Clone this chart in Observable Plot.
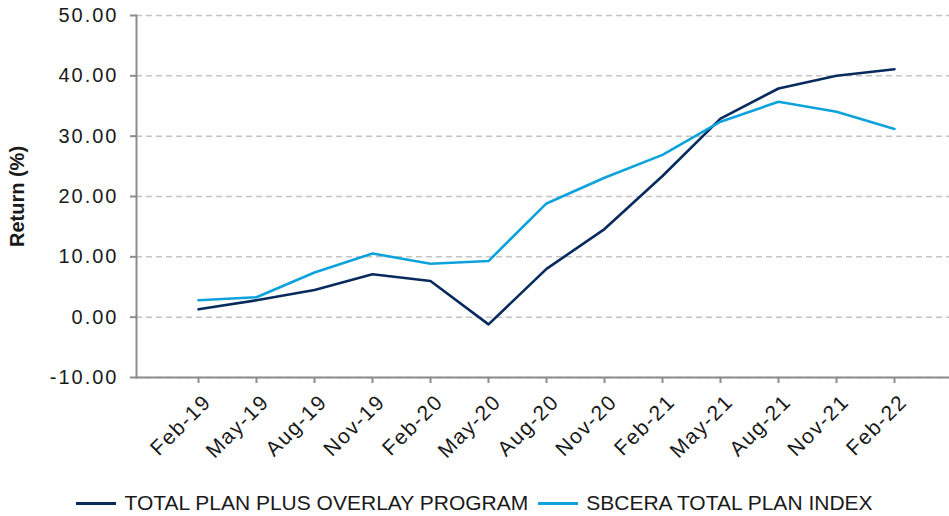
<!DOCTYPE html>
<html>
<head>
<meta charset="utf-8">
<script src="https://cdn.jsdelivr.net/npm/d3@7"></script>
<script src="https://cdn.jsdelivr.net/npm/@observablehq/plot@0.6"></script>
<style>
  html, body { margin: 0; padding: 0; background: #fff; }
  body { width: 949px; font-family: "Liberation Sans", Arial, sans-serif; }
  #chart svg { display: block; }
  [aria-label="y-axis tick label"] text { letter-spacing: 2px; }
  [aria-label="x-axis tick label"] text { letter-spacing: 1.5px; font-size: 21px; }
  [aria-label="y-axis label"] text { font-weight: bold; font-size: 20px; fill: #1a1a1a; }
  .legend { display: flex; justify-content: center; align-items: center; height: 46px; gap: 10px; font-size: 21px; color: #1a1a1a; }
  .item { display: flex; align-items: center; }
  .swatch { width: 40px; height: 3px; margin-right: 8px; }
</style>
</head>
<body>
<div id="chart"></div>
<div class="legend" id="legend"></div>
<script>
const dates = ["Feb-19","May-19","Aug-19","Nov-19","Feb-20","May-20","Aug-20","Nov-20","Feb-21","May-21","Aug-21","Nov-21","Feb-22"];
const overlayProgram = [1.3, 2.8, 4.5, 7.1, 6.0, -1.2, 8.0, 14.6, 23.4, 32.9, 37.9, 40.0, 41.1];
const planIndex = [2.8, 3.3, 7.4, 10.55, 8.85, 9.3, 18.85, 23.1, 26.9, 32.4, 35.7, 34.05, 31.2];
const seriesNames = ["TOTAL PLAN PLUS OVERLAY PROGRAM", "SBCERA TOTAL PLAN INDEX"];
const seriesColors = ["#082b5e", "#0ea2dc"];
const yTicks = [-10, 0, 10, 20, 30, 40, 50];

const data = dates.flatMap((d, i) => [
  {date: d, value: overlayProgram[i], series: seriesNames[0]},
  {date: d, value: planIndex[i], series: seriesNames[1]}
]);

const chart = Plot.plot({
  width: 949,
  height: 480,
  marginLeft: 136,
  marginRight: 0,
  marginTop: 15,
  marginBottom: 103,
  style: {fontFamily: '"Liberation Sans", Arial, sans-serif', fontSize: "20px", color: "#1a1a1a", background: "white"},
  x: {type: "point", domain: dates, padding: 1, align: 0.53},
  y: {domain: [-10, 50]},
  color: {domain: seriesNames, range: seriesColors},
  marks: [
    Plot.gridY(yTicks, {stroke: "#c4c4c4", strokeOpacity: 1, strokeWidth: 1.5, strokeDasharray: "6,4"}),
    Plot.ruleY([-10], {stroke: "#8c8c8c", strokeWidth: 2}),
    Plot.frame({anchor: "left", stroke: "#8c8c8c", strokeWidth: 2}),
    Plot.axisY(yTicks, {
      tickSize: 6, tickPadding: 12, stroke: "#8c8c8c", strokeWidth: 2, fill: "#1a1a1a",
      tickFormat: v => v.toFixed(2),
      label: "Return (%)", labelAnchor: "center", labelOffset: 127, labelArrow: "none"
    }),
    Plot.axisX({
      tickSize: 6, stroke: "#8c8c8c", strokeWidth: 2, tickFormat: () => "", label: null
    }),
    Plot.axisX({
      tickSize: 0, tickPadding: 21, tickRotate: -45, fill: "#1a1a1a",
      dx: 9, label: null
    }),
    Plot.line(data, {x: "date", y: "value", z: "series", stroke: "series", strokeWidth: 2.6})
  ]
});
document.getElementById("chart").appendChild(chart);

const legend = document.getElementById("legend");
seriesNames.forEach((name, i) => {
  const item = document.createElement("div");
  item.className = "item";
  const sw = document.createElement("span");
  sw.className = "swatch";
  sw.style.background = seriesColors[i];
  const label = document.createElement("span");
  label.textContent = name;
  item.appendChild(sw);
  item.appendChild(label);
  legend.appendChild(item);
});
</script>
</body>
</html>
